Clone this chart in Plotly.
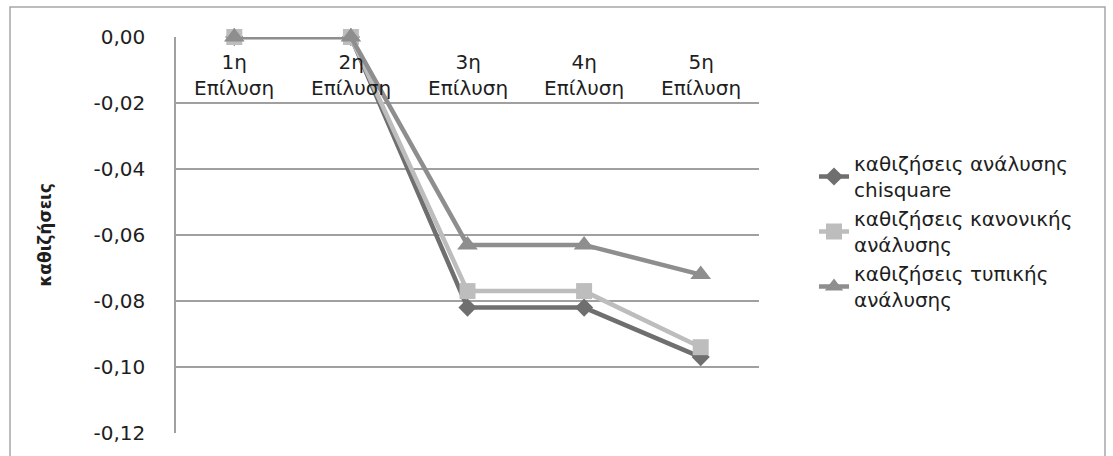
import plotly.graph_objects as go

categories = ["1η", "2η", "3η", "4η", "5η"]
cat_labels = ["1η<br>Επίλυση", "2η<br>Επίλυση", "3η<br>Επίλυση", "4η<br>Επίλυση", "5η<br>Επίλυση"]
chisquare = [0.0, 0.0, -0.082, -0.082, -0.097]
normal = [0.0, 0.0, -0.077, -0.077, -0.094]
typical = [0.0, 0.0, -0.063, -0.063, -0.072]
names = ["καθιζήσεις ανάλυσης<br>chisquare", "καθιζήσεις κανονικής<br>ανάλυσης", "καθιζήσεις τυπικής<br>ανάλυσης"]
ytick_vals = [0.0, -0.02, -0.04, -0.06, -0.08, -0.10, -0.12]
ytick_text = ["0,00", "-0,02", "-0,04", "-0,06", "-0,08", "-0,10", "-0,12"]

FONT = "DejaVu Sans"
TXT = "#1e1e1e"
fig = go.Figure()
series = [
    (chisquare, names[0], "#6f6f6f", "diamond", 14),
    (normal, names[1], "#bdbdbd", "square", 16),
    (typical, names[2], "#8e8e8e", "triangle-up", 18),
]
for vals, nm, col, sym, sz in series:
    fig.add_trace(go.Scatter(
        x=categories, y=vals, name=nm, mode="lines+markers",
        line=dict(color=col, width=4.5),
        marker=dict(symbol=sym, size=sz, color=col),
        cliponaxis=False,
    ))

for c, lab in zip(categories, cat_labels):
    fig.add_annotation(x=c, y=0, xref="x", yref="y", text=lab, showarrow=False,
                       yanchor="top", yshift=-11, align="center",
                       font=dict(family=FONT, size=20, color=TXT))

L, R, T, B = 176, 354, 37, 23
W, H = 1113, 456
pw, ph = W - L - R, H - T - B

def px(x):
    return (x - L) / pw

def py(y):
    return (H - B - y) / ph

fig.add_shape(type="rect", xref="paper", yref="paper",
              x0=px(10), x1=px(1105), y0=py(470), y1=py(7),
              line=dict(color="#a6a6a6", width=1.5), layer="below")

fig.update_layout(
    width=W, height=H,
    margin=dict(l=L, r=R, t=T, b=B, autoexpand=False),
    paper_bgcolor="white", plot_bgcolor="white",
    font=dict(family=FONT, size=20, color=TXT),
    showlegend=True,
    legend=dict(x=px(814), y=py(144), xanchor="left", yanchor="top",
                font=dict(family=FONT, size=20, color=TXT), tracegroupgap=8,
                itemwidth=30, bgcolor="rgba(0,0,0,0)"),
    xaxis=dict(
        type="category", range=[-0.5, 4.5], showticklabels=False,
        ticks="", showgrid=False, automargin=False,
        showline=False, zeroline=False, fixedrange=True,
    ),
    yaxis=dict(
        range=[-0.12, 0.0], tickvals=ytick_vals, ticktext=ytick_text,
        showgrid=True, gridcolor="#a0a0a0", gridwidth=1.5,
        showline=True, linecolor="#a0a0a0", linewidth=1.5,
        zeroline=False, ticks="", ticklabelstandoff=25, automargin=False,
        tickfont=dict(family=FONT, size=20, color=TXT),
        title=dict(text="<b>καθιζήσεις</b>", font=dict(family=FONT, size=17, color=TXT), standoff=38),
        fixedrange=True,
    ),
)

fig.write_html("out.html", config={"displayModeBar": False},
               post_script="document.body.style.margin='0';")
